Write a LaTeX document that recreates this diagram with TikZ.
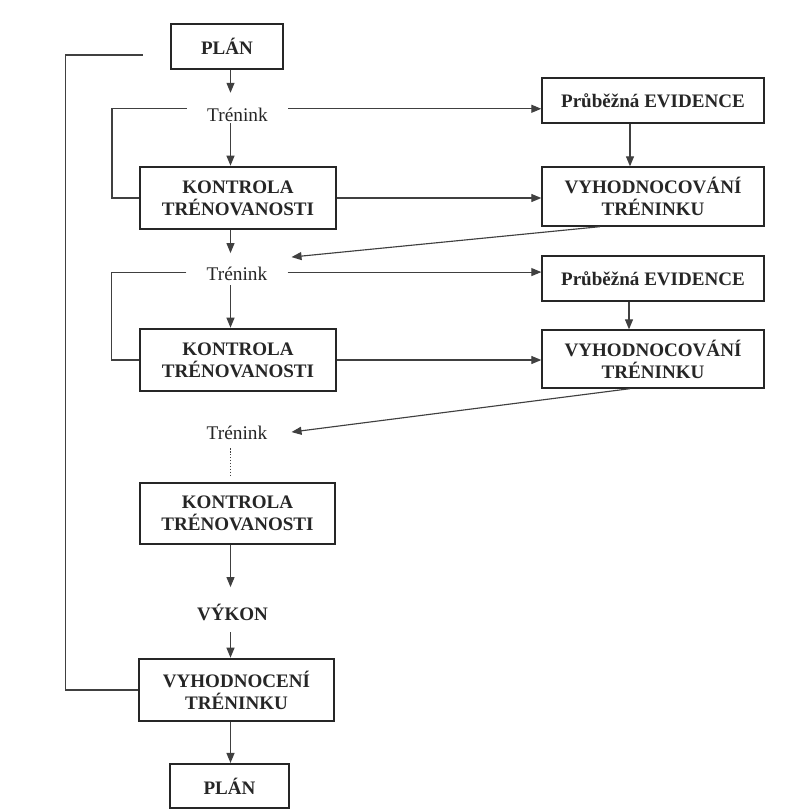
\documentclass[tikz,border=0pt]{standalone}
\usepackage{fontspec}
\setmainfont{Liberation Serif}
\usetikzlibrary{arrows.meta,calc}
\definecolor{ink}{HTML}{262626}
\definecolor{wire}{HTML}{404040}
\begin{document}
\begin{tikzpicture}[x=0.75pt,y=-0.75pt,
  boxfont/.style={font=\fontsize{14.3}{16.5}\selectfont\bfseries},
  heavybox/.style={boxfont, draw=ink, text=ink, line width=2pt, align=center, inner sep=0pt},
  lightbox/.style={boxfont, draw=ink, text=ink, line width=1pt, align=center, inner sep=0pt},
  stage/.style={font=\fontsize{14.5}{16}\selectfont, text=ink, inner xsep=15pt, inner ysep=0pt,
                text height=11pt, text depth=0pt, anchor=base},
  result/.style={boxfont, text=ink, inner sep=0pt, text height=11pt, text depth=0pt, anchor=base},
  arr/.style={draw=wire, line width=0.85pt, -{Triangle[length=7.5pt,width=6pt]}},
  wireline/.style={draw=wire, line width=0.85pt}
]
\useasboundingbox (0,0) rectangle (798,811);
\fill[white] (0,0) rectangle (798,811);

% main column
\coordinate (col) at (230.5,0);
\coordinate (loopend) at (143,55);

\node[heavybox, minimum width=84pt, minimum height=33.75pt] (planA) at (227,46.5) {PLÁN};
\node[stage] (tr1) at (237.5,121.7) {Trénink};
\node[heavybox, minimum width=147pt, minimum height=46.5pt] (kon1) at (238,198) {KONTROLA\\TRÉNOVANOSTI};
\node[stage] (tr2) at (237,280) {Trénink};
\node[heavybox, minimum width=147pt, minimum height=46.5pt] (kon2) at (238,360) {KONTROLA\\TRÉNOVANOSTI};
\node[stage] (tr3) at (237,439) {Trénink};
\node[heavybox, minimum width=146.25pt, minimum height=45.75pt] (kon3) at (237.5,513.5) {KONTROLA\\TRÉNOVANOSTI};
\node[result] (vykon) at (232.5,620) {VÝKON};
\node[heavybox, minimum width=146.25pt, minimum height=46.5pt] (vyhodn) at (236.5,690) {VYHODNOCENÍ\\TRÉNINKU};
\node[heavybox, line width=1.6pt, minimum width=89.25pt, minimum height=33pt] (planB) at (229.5,786) {PLÁN};

% right column
\node[lightbox, minimum width=166.5pt, minimum height=33.75pt] (ev1) at (653,100.5) {Průběžná EVIDENCE};
\node[lightbox, minimum width=166.5pt, minimum height=44.25pt] (vy1) at (653,196.5) {VYHODNOCOVÁNÍ\\TRÉNINKU};
\node[lightbox, minimum width=166.5pt, minimum height=33.75pt] (ev2) at (653,278.5) {Průběžná EVIDENCE};
\node[lightbox, minimum width=166.5pt, minimum height=43.5pt] (vy2) at (653,359) {VYHODNOCOVÁNÍ\\TRÉNINKU};

% vertical flow
\draw[arr] (col |- planA.south) -- ($(col |- tr1.north)+(0,-14)$);
\draw[arr] ($(col |- tr1.south)+(0,1.5)$) -- (col |- kon1.north);
\draw[arr] (col |- kon1.south) -- ($(col |- tr2.north)+(0,-12)$);
\draw[arr] ($(col |- tr2.south)+(0,5)$) -- (col |- kon2.north);
\draw[wire, line width=1.2pt, dash pattern=on 1pt off 1.2pt] ($(col |- tr3.south)+(0,9)$) -- ($(col |- kon3.north)+(0,-5)$);
\draw[arr] (col |- kon3.south) -- ($(col |- vykon.north)+(0,-18)$);
\draw[arr] ($(col |- vykon.south)+(0,12)$) -- (col |- vyhodn.north);
\draw[arr] (col |- vyhodn.south) -- (col |- planB.north);

% side loops
\draw[wireline] ([yshift=-1.5pt]tr1.north west) -- ++(-75,0) |- (kon1.west);
\draw[wireline] ([yshift=-5.25pt]tr2.north west) -- ++(-75,0) |- (kon2.west);
\draw[wireline] (vyhodn.west) -- ++(-72,0) |- (loopend);

% to the right column
\draw[arr] ([yshift=-1.5pt]tr1.north east) coordinate (r1) -- (r1 -| ev1.west);
\draw[arr] ([yshift=-5.25pt]tr2.north east) coordinate (r2) -- (r2 -| ev2.west);
\draw[arr] (kon1.east) -- (kon1.east -| vy1.west);
\draw[arr] (kon2.east) -- (kon2.east -| vy2.west);
\draw[arr] ($(ev1.south)+(-23,0)$) coordinate (e1) -- (e1 |- vy1.north);
\draw[arr] ($(ev2.south)+(-24,0)$) coordinate (e2) -- (e2 |- vy2.north);

% feedback to the next training block
\draw[arr] ($(vy1.south)+(-53,0)$) -- ([shift={(3pt,6pt)}]tr2.north east);
\draw[arr] ($(vy2.south)+(-23,0)$) -- ([shift={(3pt,-6pt)}]tr3.north east);
\end{tikzpicture}
\end{document}
